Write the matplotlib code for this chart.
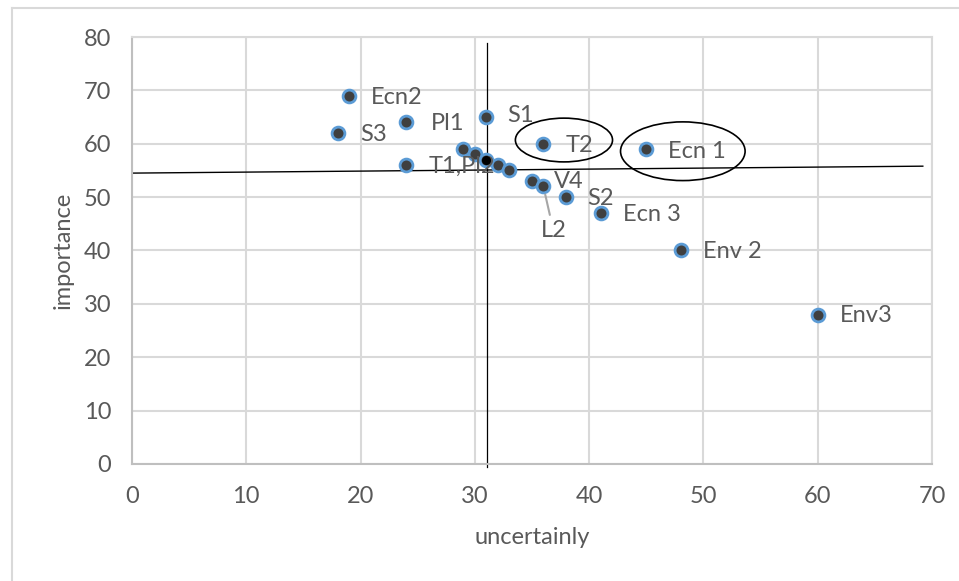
import matplotlib.pyplot as plt
from matplotlib.patches import Ellipse
from matplotlib.lines import Line2D

plt.rcParams['font.family'] = ['Lato', 'DejaVu Sans']

# points (uncertainly, importance) and their labels
xs = [19, 18, 24, 31, 36, 45, 24, 29, 30, 31, 32, 33, 35, 36, 38, 41, 48, 60]
ys = [69, 62, 64, 65, 60, 59, 56, 59, 58, 57, 56, 55, 53, 52, 50, 47, 40, 28]
names = ['Ecn2', 'S3', 'Pl1', 'S1', 'T2', 'Ecn 1', 'T1,Pl2', '', '', '', '', '',
         'V4', 'L2', 'S2', 'Ecn 3', 'Env 2', 'Env3']
# label offsets in points
offs = [(16, -1), (16, -1), (18, -1), (15, 1), (16, -1), (16, -2), (16, -1), (0, 0), (0, 0),
        (0, 0), (0, 0), (0, 0), (16, 0), (-2, -32), (15, -1), (16, -1), (16, -1), (16, -1)]

# hand drawn marks on the chart
hline = ([0, 69.2], [54.5, 55.8])
vline = ([31.1, 31.1], [-0.5, 78.8])
ellipses = [(37.8, 60.7, 8.5, 8.2), (48.2, 58.6, 10.9, 11.0)]
cross = (31, 57)

txt = '#595959'
fs = 17
fig = plt.figure(figsize=(9.59, 5.81), dpi=100)
ax = fig.add_axes([0.1376, 0.2014, 0.8342, 0.7349])

# outer chart border (only left and top are inside the picture)
bx, by = 11.5 / 959, 1 - 7.5 / 581
fig.lines.append(Line2D([bx, bx], [0, by], transform=fig.transFigure, color='#d9d9d9', lw=1.5))
fig.lines.append(Line2D([bx, 1], [by, by], transform=fig.transFigure, color='#d9d9d9', lw=1.5))

ax.scatter(xs, ys, s=85, c='#3f3f3f', edgecolors='#5b9bd5', linewidths=2, zorder=3)
ax.scatter([cross[0]], [cross[1]], s=30, c='black', zorder=4)

for x, y, n, o in zip(xs, ys, names, offs):
    if not n:
        continue
    if n == 'L2':
        ax.annotate(n, (x, y), xytext=o, textcoords='offset points', fontsize=fs,
                    color=txt, ha='left', va='center',
                    arrowprops=dict(arrowstyle='-', color='#a6a6a6', lw=1.5,
                                    shrinkA=2, shrinkB=6))
    else:
        ax.annotate(n, (x, y), xytext=o, textcoords='offset points', fontsize=fs,
                    color=txt, ha='left', va='center')

ax.plot(*hline, color='black', lw=1, clip_on=False, zorder=2)
ax.plot(*vline, color='black', lw=0.9, clip_on=False, zorder=2)
for cx, cy, w, h in ellipses:
    ax.add_patch(Ellipse((cx, cy), w, h, fill=False, edgecolor='black', lw=1.2, zorder=2))

ax.set_xlim(0, 70)
ax.set_ylim(0, 80)
ax.set_xticks(range(0, 71, 10))
ax.set_yticks(range(0, 81, 10))
ax.grid(True, color='#d9d9d9', lw=1.5)
ax.set_axisbelow(True)
for s in ax.spines.values():
    s.set_color('#d9d9d9')
    s.set_linewidth(1.5)
ax.spines['left'].set_color('#bfbfbf')
ax.spines['bottom'].set_color('#bfbfbf')
ax.tick_params(length=0, labelsize=fs, labelcolor=txt)
ax.tick_params(axis='x', pad=16)
ax.tick_params(axis='y', pad=15)
ax.set_xlabel('uncertainly', fontsize=fs, color=txt, labelpad=14)
ax.set_ylabel('importance', fontsize=fs, color=txt, labelpad=7)

fig.savefig('out.png', dpi=100)
